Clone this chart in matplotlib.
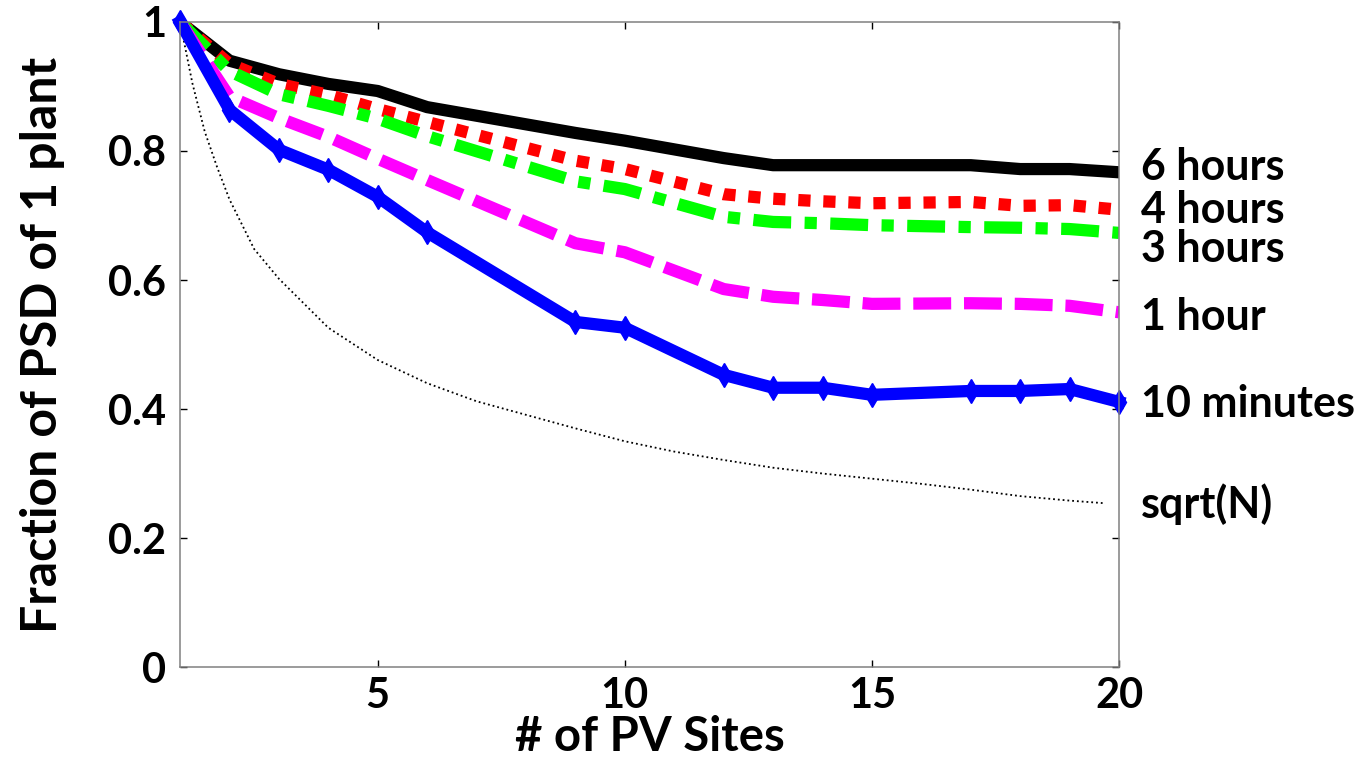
import matplotlib
matplotlib.use('Agg')
import matplotlib.pyplot as plt

# number of PV sites that were sampled
sites = [1, 2, 3, 4, 5, 6, 9, 10, 12, 13, 14, 15, 17, 18, 19, 20]

psd_6h = [1.0, 0.940, 0.919, 0.904, 0.893, 0.868, 0.828, 0.816, 0.789, 0.778,
          0.778, 0.778, 0.778, 0.772, 0.772, 0.767]
psd_4h = [1.0, 0.935, 0.904, 0.887, 0.865, 0.845, 0.785, 0.772, 0.733, 0.726,
          0.722, 0.719, 0.721, 0.715, 0.716, 0.709]
psd_3h = [1.0, 0.924, 0.888, 0.870, 0.850, 0.823, 0.753, 0.741, 0.698, 0.690,
          0.688, 0.685, 0.682, 0.681, 0.679, 0.673]
psd_1h = [1.0, 0.884, 0.851, 0.822, 0.788, 0.755, 0.657, 0.643, 0.586, 0.574,
          0.569, 0.563, 0.564, 0.563, 0.560, 0.550]
psd_10m = [1.0, 0.864, 0.802, 0.771, 0.729, 0.674, 0.535, 0.526, 0.453, 0.433,
           0.433, 0.422, 0.428, 0.428, 0.431, 0.411]

# reference curve
ref_x = [1, 1.25, 1.5, 1.75, 2, 2.5, 3, 4, 5, 6, 7, 8, 9, 10, 11, 12, 13, 14,
         15, 16, 17, 18, 19, 19.7]
ref_y = [1.0, 0.905, 0.83, 0.775, 0.725, 0.648, 0.602, 0.526, 0.476, 0.44,
         0.412, 0.391, 0.37, 0.35, 0.334, 0.321, 0.309, 0.30, 0.292, 0.284,
         0.275, 0.265, 0.258, 0.254]

labels = ["6 hours", "4 hours", "3 hours", "1 hour", "10 minutes", "sqrt(N)"]
label_y = [0.755, 0.688, 0.628, 0.522, 0.388, 0.231]

xticks = [5, 10, 15, 20]
yticks = [0, 0.2, 0.4, 0.6, 0.8, 1]
ytick_labels = ["0", "0.2", "0.4", "0.6", "0.8", "1"]

FONT = dict(family="Lato", weight="bold")
LW = 8.8

fig = plt.figure(figsize=(13.66, 7.58), dpi=100)
ax = fig.add_axes([0.1318, 0.12, 0.8192 - 0.1318, 0.971 - 0.12])

ax.plot(ref_x, ref_y, color="black", linestyle=":", linewidth=1.3)
ax.plot(sites, psd_6h, color="black", linewidth=LW)
ax.plot(sites, psd_4h, color="#ff0000", linewidth=LW, dashes=(1, 1.05))
ax.plot(sites, psd_3h, color="#00ff00", linewidth=LW, dashes=(3.1, 1.1, 1, 1.1))
ax.plot(sites, psd_1h, color="#ff00ff", linewidth=LW, dashes=(3.1, 1.05))
ax.plot(sites, psd_10m, color="#0000ff", linewidth=LW, marker="d",
        markersize=12.5, clip_on=False)

ax.set_xlim(1, 20)
ax.set_ylim(0, 1)
ax.set_xticks(xticks)
ax.set_yticks(yticks)
ax.set_yticklabels(ytick_labels)

for s in ax.spines.values():
    s.set_color("#808080")
    s.set_linewidth(1.1)
ax.tick_params(direction="in", length=5, width=1, color="black",
               top=True, right=True, labelsize=30)
ax.tick_params(axis="y", pad=10)
ax.tick_params(axis="x", pad=7)
for lab in ax.get_xticklabels() + ax.get_yticklabels():
    lab.set_family("Lato")
    lab.set_weight("bold")

ax.set_xlabel("# of PV Sites", fontsize=34, labelpad=0, **FONT)
ax.set_ylabel("Fraction of PSD of 1 plant", fontsize=36, labelpad=31, **FONT)

for txt, y in zip(labels, label_y):
    ax.text(20.45, y, txt, fontsize=31, va="baseline", ha="left",
            clip_on=False, **FONT)

fig.savefig("out.png", dpi=100)
